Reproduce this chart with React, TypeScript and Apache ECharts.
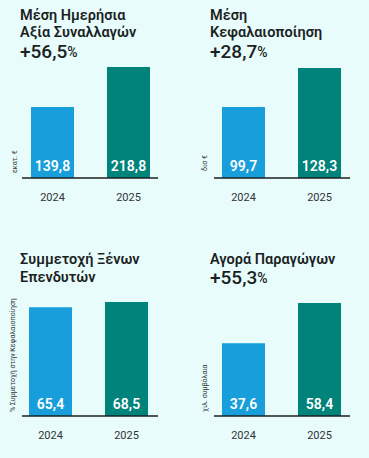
import React, { useEffect, useRef } from "react";
import * as echarts from "echarts";

const years = ["2024", "2025"];
const dailyValue = [139.8, 218.8];
const marketCap = [99.7, 128.3];
const foreignShare = [65.4, 68.5];
const derivatives = [37.6, 58.4];
const colors = ["#189fdb", "#00837b"];
const titles = [
  "Μέση Ημερήσια\nΑξία Συναλλαγών",
  "Μέση\nΚεφαλαιοποίηση",
  "Συμμετοχή Ξένων\nΕπενδυτών",
  "Αγορά Παραγώγων",
];
const changes = ["+56,5", "+28,7", "", "+55,3"];
const unitNames = ["εκατ. €", "δισ €", "% Συμμετοχή στην Κεφαλαιοποίηση", "χιλ. συμβόλαια"];
const axisMins = [0, 47.6, 0, 0];

const FONT = "Roboto, 'Noto Sans', sans-serif";
const INK = "#1b1f22";

export default function App() {
  const ref = useRef<HTMLDivElement>(null);
  useEffect(() => {
    if (!ref.current) return;
    const chart = echarts.init(ref.current, undefined, { renderer: "svg" });
    const seriesData = [dailyValue, marketCap, foreignShare, derivatives];
    const grids = [
      { left: 14.5, top: 67, width: 152, height: 111 },
      { left: 205.5, top: 68, width: 152, height: 110 },
      { left: 12.5, top: 302, width: 152, height: 114 },
      { left: 205.5, top: 303, width: 152, height: 113 },
    ];
    const baselines = [
      { x1: 22, x2: 158, y: 178 },
      { x1: 214, x2: 350, y: 178 },
      { x1: 22, x2: 158, y: 416 },
      { x1: 214, x2: 350, y: 416 },
    ];
    const titlePos = [
      { left: 20, top: 7 },
      { left: 210, top: 7 },
      { left: 20, top: 250 },
      { left: 210, top: 251 },
    ];
    const titleLH = [17, 17, 18, 16];
    const pctTop = [42, 42, 0, 268];
    const unitPos = [
      { x: 15, y: 173 },
      { x: 205, y: 171 },
      { x: 13, y: 412 },
      { x: 205, y: 412 },
    ];

    const titleArr: any[] = [];
    titles.forEach((t, i) => {
      titleArr.push({
        text: t,
        left: titlePos[i].left,
        top: titlePos[i].top,
        padding: 0,
        textStyle: { fontFamily: FONT, fontSize: 14.5, fontWeight: 600, lineHeight: titleLH[i], color: INK },
      });
      if (changes[i]) {
        titleArr.push({
          text: `{a|${changes[i]}}{b|%}`,
          left: titlePos[i].left,
          top: pctTop[i],
          padding: 0,
          textStyle: {
            rich: {
              a: { fontFamily: FONT, fontSize: 19, fontWeight: 500, color: INK },
              b: { fontFamily: FONT, fontSize: 14, fontWeight: 500, color: INK },
            },
          },
        });
      }
    });

    const graphic: any[] = [];
    baselines.forEach((b) => {
      graphic.push({
        type: "line",
        shape: { x1: b.x1, y1: b.y, x2: b.x2, y2: b.y },
        style: { stroke: INK, lineWidth: 1.5 },
        z: 100,
      });
    });
    unitNames.forEach((u, i) => {
      graphic.push({
        type: "text",
        x: unitPos[i].x,
        y: unitPos[i].y,
        rotation: Math.PI / 2,
        style: {
          text: u,
          fontFamily: FONT,
          fontSize: 7,
          fill: "#333",
          align: "left",
          verticalAlign: "middle",
        },
      });
    });

    chart.setOption({
      animation: false,
      backgroundColor: "#e8fcfc",
      title: titleArr,
      graphic,
      grid: grids,
      xAxis: grids.map((_, i) => ({
        type: "category",
        gridIndex: i,
        data: years,
        axisLine: { show: false },
        axisTick: { show: false },
        axisLabel: { margin: 14, fontFamily: FONT, fontSize: 11, color: "#333" },
      })),
      yAxis: grids.map((_, i) => ({
        type: "value",
        gridIndex: i,
        min: axisMins[i],
        max: Math.max(...seriesData[i]),
        show: false,
        splitLine: { show: false },
      })),
      series: seriesData.map((d, i) => ({
        type: "bar",
        xAxisIndex: i,
        yAxisIndex: i,
        barWidth: 43,
        data: d.map((v, j) => ({ value: v, itemStyle: { color: colors[j] } })),
        label: {
          show: true,
          position: "insideBottom",
          distance: 5,
          formatter: (p: any) => p.value.toFixed(1).replace(".", ","),
          fontFamily: FONT,
          fontSize: 14,
          fontWeight: 600,
          color: "#ffffff",
        },
      })),
    });
    return () => chart.dispose();
  }, []);
  return (
    <div
      ref={ref}
      style={{ position: "fixed", left: 0, top: 0, width: 369, height: 458, background: "#e8fcfc" }}
    />
  );
}
